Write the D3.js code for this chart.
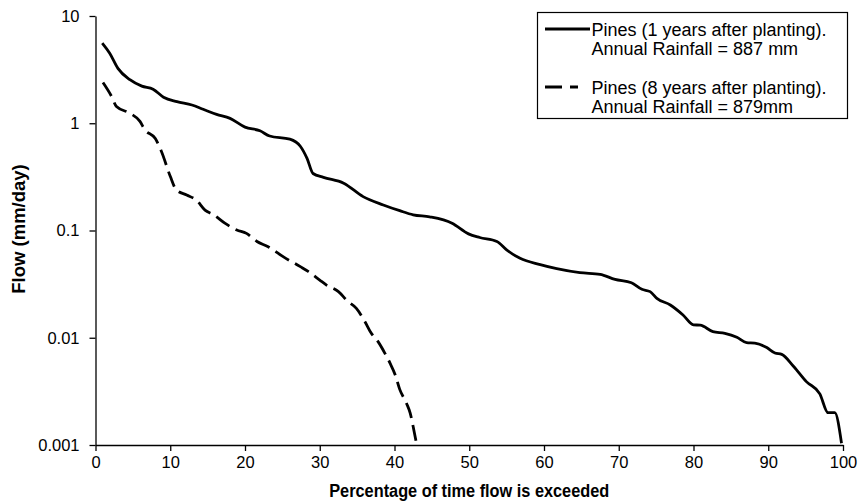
<!DOCTYPE html>
<html>
<head>
<meta charset="utf-8">
<script src="https://cdn.jsdelivr.net/npm/d3@7/dist/d3.min.js"></script>
<style>
  html, body { margin: 0; padding: 0; background: #fff; }
  svg { display: block; }
</style>
</head>
<body>
<svg id="chart" width="860" height="502"></svg>
<script>
// ---- Data ----
const xTicks = [0, 10, 20, 30, 40, 50, 60, 70, 80, 90, 100];
const yTicks = [0.001, 0.01, 0.1, 1, 10];
const yTickLabels = ["0.001", "0.01", "0.1", "1", "10"];

const seriesNames = [
  ["Pines (1 years after planting).", "Annual Rainfall = 887 mm"],
  ["Pines (8 years after planting).", "Annual Rainfall = 879mm"]
];

const pct1 = [0.9, 1.9, 3.0, 4.6, 6.2, 7.7, 9.1, 10.9, 12.9, 14.4, 16.2, 18.0, 20.0, 22.0, 23.3, 26.0, 27.4, 28.3, 29.1, 30.5, 33.2, 35.8, 38.5, 40.7, 42.5, 44.7, 47.7, 49.9, 51.4, 53.7, 55.0, 56.8, 59.5, 61.7, 64.8, 67.5, 69.5, 71.7, 73.1, 74.2, 75.1, 76.9, 78.6, 80.0, 80.9, 82.6, 84.2, 85.8, 87.1, 88.2, 89.8, 90.9, 91.8, 93.4, 95.1, 96.9, 98.0, 98.9, 99.8];
const flow1 = [5.6, 4.5, 3.25, 2.55, 2.22, 2.08, 1.75, 1.59, 1.48, 1.35, 1.21, 1.11, 0.92, 0.85, 0.76, 0.71, 0.61, 0.47, 0.34, 0.313, 0.276, 0.207, 0.173, 0.153, 0.14, 0.134, 0.117, 0.093, 0.086, 0.079, 0.066, 0.055, 0.048, 0.044, 0.0404, 0.039, 0.035, 0.0326, 0.0283, 0.0269, 0.0233, 0.0202, 0.0163, 0.0132, 0.0131, 0.0114, 0.011, 0.0101, 0.009, 0.0089, 0.0081, 0.0072, 0.007, 0.0054, 0.0039, 0.003, 0.002, 0.002, 0.00104];

const pct8 = [1.0, 2.2, 2.8, 4.6, 5.95, 6.6, 8.0, 8.85, 10.0, 10.8, 12.2, 13.5, 14.65, 15.8, 17.3, 18.9, 20.2, 21.6, 23.1, 25.1, 27.4, 28.5, 30.0, 30.9, 32.5, 33.8, 34.9, 36.05, 36.9, 37.8, 38.7, 39.4, 40.1, 40.7, 41.6, 42.1, 42.5, 42.9];
const flow8 = [2.4, 1.75, 1.43, 1.24, 1.04, 0.87, 0.72, 0.54, 0.32, 0.24, 0.214, 0.192, 0.155, 0.14, 0.117, 0.101, 0.094, 0.079, 0.0706, 0.057, 0.046, 0.0413, 0.0345, 0.031, 0.0269, 0.0217, 0.0188, 0.0141, 0.011, 0.0092, 0.0072, 0.0058, 0.0045, 0.0033, 0.00245, 0.00198, 0.00148, 0.00107];

// ---- Layout ----
const svg = d3.select("#chart");
const mLeft = 95.5, mRight = 843, mTop = 16, mBottom = 445;

const x = d3.scaleLinear().domain([0, 100]).range([mLeft, mRight]);
const y = d3.scaleLog().domain([0.001, 10]).range([mBottom, mTop]);

const textFont = "'Liberation Sans', Arial, sans-serif";

// Axes
const xAxis = d3.axisBottom(x).tickValues(xTicks).tickSize(6).tickSizeOuter(0).tickPadding(5);
const yAxis = d3.axisLeft(y).tickValues(yTicks).tickFormat((d, i) => yTickLabels[i]).tickSize(6).tickSizeOuter(0).tickPadding(10);

const gx = svg.append("g").attr("transform", `translate(0,${mBottom})`).call(xAxis);
const gy = svg.append("g").attr("transform", `translate(${mLeft},0)`).call(yAxis);

[gx, gy].forEach(g => {
  g.selectAll("path.domain").attr("stroke", "#000").attr("stroke-width", 1.3);
  g.selectAll(".tick line").attr("stroke", "#000").attr("stroke-width", 1.3);
  g.selectAll(".tick text").attr("fill", "#000").style("font-family", textFont).style("font-size", "16.5px");
});

// Axis titles
svg.append("text")
  .attr("x", (mLeft + mRight) / 2).attr("y", 497)
  .attr("text-anchor", "middle")
  .attr("textLength", 280).attr("lengthAdjust", "spacingAndGlyphs")
  .style("font-family", textFont).style("font-size", "17.5px").style("font-weight", "bold")
  .text("Percentage of time flow is exceeded");

svg.append("text")
  .attr("transform", `translate(25,229) rotate(-90)`)
  .attr("text-anchor", "middle")
  .style("font-family", textFont).style("font-size", "18.5px").style("font-weight", "bold")
  .text("Flow (mm/day)");

// Lines
const line = d3.line().x(d => x(d[0])).y(d => y(d[1])).curve(d3.curveMonotoneX);
const data1 = pct1.map((p, i) => [p, flow1[i]]);
const data8 = pct8.map((p, i) => [p, flow8[i]]);

svg.append("path").datum(data1)
  .attr("d", line).attr("fill", "none").attr("stroke", "#000").attr("stroke-width", 2.8)
  .attr("stroke-linejoin", "round");

svg.append("path").datum(data8)
  .attr("d", line).attr("fill", "none").attr("stroke", "#000").attr("stroke-width", 2.8)
  .attr("stroke-dasharray", "16,7");

// Legend
const lg = svg.append("g");
lg.append("rect").attr("x", 537.5).attr("y", 12.5).attr("width", 310).attr("height", 106)
  .attr("fill", "#fff").attr("stroke", "#000").attr("stroke-width", 1.2);

const legendRows = [{ y: 29, x2: 590, dash: null }, { y: 87, x2: 578, dash: "17,8" }];
legendRows.forEach((r, i) => {
  lg.append("line").attr("x1", 545).attr("x2", r.x2).attr("y1", r.y).attr("y2", r.y)
    .attr("stroke", "#000").attr("stroke-width", 2.8)
    .attr("stroke-dasharray", r.dash);
  seriesNames[i].forEach((t, j) => {
    lg.append("text").attr("x", 591.5).attr("y", r.y + 7 + j * 19)
      .style("font-family", textFont).style("font-size", "18px")
      .text(t);
  });
});
</script>
</body>
</html>
